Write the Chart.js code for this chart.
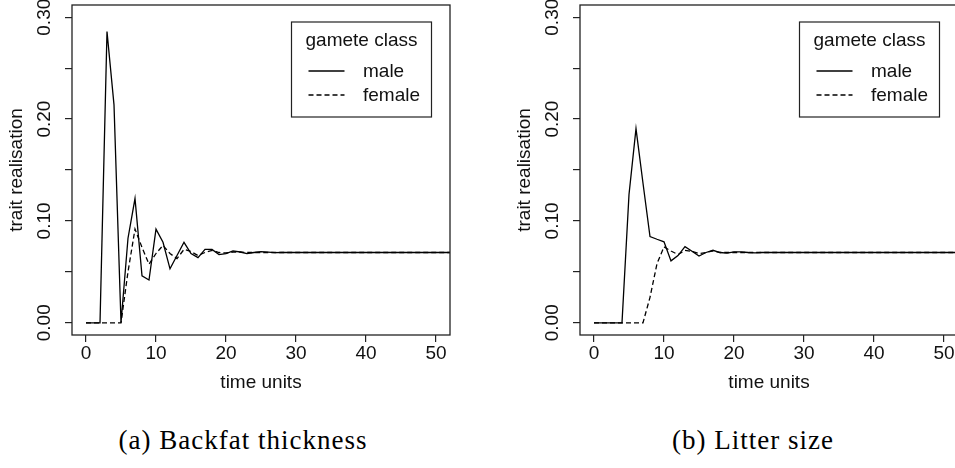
<!DOCTYPE html>
<html><head><meta charset="utf-8">
<script src="https://cdn.jsdelivr.net/npm/chart.js@4.4.0/dist/chart.umd.min.js"></script>
<style>
html,body{margin:0;padding:0;background:#fff;overflow:hidden;width:955px;height:468px;}
#wrap{position:relative;width:955px;height:468px;overflow:hidden;}
canvas{position:absolute;top:0;}
#c1{left:0px}
#c2{left:508px}
.cap{position:absolute;font-family:"Liberation Serif","Times New Roman",serif;font-size:27px;letter-spacing:1px;color:#000;white-space:nowrap;transform:translateX(-50%);line-height:1;}
</style></head><body>
<div id="wrap">
<canvas id="c1" width="480" height="410"></canvas>
<canvas id="c2" width="480" height="410"></canvas>
<div class="cap" id="cap1" style="left:243px;top:427px"></div>
<div class="cap" id="cap2" style="left:753px;top:427px"></div>
</div>
<script>
// ---- data ----
const timeUnits = [0,1,2,3,4,5,6,7,8,9,10,11,12,13,14,15,16,17,18,19,20,21,22,23,24,25,26,27,28,29,30,31,32,33,34,35,36,37,38,39,40,41,42,43,44,45,46,47,48,49,50,51,52,53,54,55];

const backfatMale = [0,0,0,0.286,0.214,0,0.083,0.122,0.046,0.042,0.092,0.079,0.053,0.066,0.079,0.068,0.064,0.072,0.072,0.067,0.068,0.0705,0.0695,0.068,0.069,0.0698,0.0693,0.0688,0.069,0.0692,0.069,0.069,0.069,0.069,0.069,0.069,0.069,0.069,0.069,0.069,0.069,0.069,0.069,0.069,0.069,0.069,0.069,0.069,0.069,0.069,0.069,0.069,0.069,0.069,0.069,0.069];
const backfatFemale = [0,0,0,0,0,0,0.05,0.092,0.074,0.0575,0.068,0.076,0.068,0.063,0.072,0.070,0.066,0.069,0.071,0.069,0.0685,0.0695,0.0695,0.069,0.069,0.069,0.069,0.069,0.069,0.069,0.069,0.069,0.069,0.069,0.069,0.069,0.069,0.069,0.069,0.069,0.069,0.069,0.069,0.069,0.069,0.069,0.069,0.069,0.069,0.069,0.069,0.069,0.069,0.069,0.069,0.069];

const litterMale = [0,0,0,0,0,0.126,0.1906,0.137,0.0847,0.082,0.0795,0.0608,0.066,0.0747,0.0702,0.0656,0.069,0.0712,0.069,0.0683,0.0696,0.0697,0.069,0.0687,0.069,0.0692,0.069,0.069,0.069,0.069,0.069,0.069,0.069,0.069,0.069,0.069,0.069,0.069,0.069,0.069,0.069,0.069,0.069,0.069,0.069,0.069,0.069,0.069,0.069,0.069,0.069,0.069,0.069,0.069,0.069,0.069];
const litterFemale = [0,0,0,0,0,0,0,0,0.025,0.058,0.0745,0.0705,0.067,0.071,0.070,0.068,0.069,0.0705,0.069,0.069,0.069,0.069,0.069,0.069,0.069,0.069,0.069,0.069,0.069,0.069,0.069,0.069,0.069,0.069,0.069,0.069,0.069,0.069,0.069,0.069,0.069,0.069,0.069,0.069,0.069,0.069,0.069,0.069,0.069,0.069,0.069,0.069,0.069,0.069,0.069,0.069];

const seriesNames = ["male", "female"];
const legendTitle = "gamete class";
const xTicks = [0,10,20,30,40,50];
const yTicks = [0,0.05,0.10,0.15,0.20,0.25,0.30];
const yLabelValues = [0,0.10,0.20,0.30];
const yLabelTexts = ["0.00","0.10","0.20","0.30"];
const xTitle = "time units";
const yTitle = "trait realisation";
const captions = ["(a) Backfat thickness", "(b) Litter size"];

// ---- drawing ----
const FONT = '"Liberation Sans", Arial, Helvetica, sans-serif';
const INK = '#111';

const rPlugin = {
  id: 'rstyle',
  afterDraw(chart) {
    const ctx = chart.ctx, ca = chart.chartArea, ys = chart.scales.y;
    ctx.save();
    // plot box
    ctx.strokeStyle = '#222'; ctx.lineWidth = 1.3;
    ctx.strokeRect(ca.left, ca.top, ca.right - ca.left, ca.bottom - ca.top);
    // rotated y tick labels
    ctx.fillStyle = INK; ctx.font = '19px ' + FONT;
    ctx.textAlign = 'center'; ctx.textBaseline = 'middle';
    yLabelValues.forEach((v, i) => {
      const py = ys.getPixelForValue(v);
      ctx.save(); ctx.translate(ca.left - 27.5, py); ctx.rotate(-Math.PI / 2);
      ctx.fillText(yLabelTexts[i], 0, 0); ctx.restore();
    });
    // legend box
    const bw = 140, bh = 95;
    const bx = ca.right - 18.5 - bw, by = ca.top + 17;
    ctx.strokeStyle = '#222'; ctx.lineWidth = 1.2;
    ctx.strokeRect(bx, by, bw, bh);
    ctx.fillText(legendTitle, bx + bw / 2, by + 19);
    const rows = [by + 49, by + 73];
    chart.data.datasets.forEach((ds, i) => {
      ctx.beginPath();
      ctx.strokeStyle = ds.borderColor; ctx.lineWidth = ds.borderWidth;
      ctx.setLineDash(ds.borderDash || []);
      ctx.moveTo(bx + 17, rows[i]); ctx.lineTo(bx + 53, rows[i]); ctx.stroke();
      ctx.setLineDash([]);
      ctx.textAlign = 'left';
      ctx.fillText(ds.label, bx + 71.5, rows[i] + 1);
    });
    ctx.restore();
  }
};

function makeChart(id, maleVals, femaleVals) {
  const gridOpts = {display: true, drawOnChartArea: false, drawTicks: true, tickLength: 7, color: '#222', lineWidth: 1.2};
  return new Chart(document.getElementById(id), {
    type: 'line',
    data: {
      datasets: [
        {label: seriesNames[0], data: timeUnits.map((t, i) => ({x: t, y: maleVals[i]})),
         borderColor: '#000', borderWidth: 1.3, pointRadius: 0, fill: false, tension: 0},
        {label: seriesNames[1], data: timeUnits.map((t, i) => ({x: t, y: femaleVals[i]})),
         borderColor: '#000', borderWidth: 1.3, borderDash: [5, 3], pointRadius: 0, fill: false, tension: 0}
      ]
    },
    options: {
      responsive: false, animation: false, devicePixelRatio: 1,
      layout: {padding: {top: 5, right: 30, left: 0, bottom: 0}},
      plugins: {legend: {display: false}, tooltip: {enabled: false}},
      scales: {
        x: {
          type: 'linear', min: -2, max: 52,
          afterBuildTicks: s => { s.ticks = xTicks.map(v => ({value: v})); },
          afterFit: s => { s.height = 75; },
          grid: gridOpts, border: {display: false},
          ticks: {font: {family: FONT, size: 19}, color: INK, padding: 0, maxRotation: 0, minRotation: 0, autoSkip: false,
                  callback: v => String(v)},
          title: {display: true, text: xTitle, font: {family: FONT, size: 19}, color: INK, padding: {top: 0, bottom: 15.6}}
        },
        y: {
          type: 'linear', min: -0.012, max: 0.312,
          afterBuildTicks: s => { s.ticks = yTicks.map(v => ({value: v})); },
          afterFit: s => { s.width = 72; },
          grid: gridOpts, border: {display: false},
          ticks: {display: false},
          title: {display: true, text: yTitle, font: {family: FONT, size: 19}, color: INK, padding: {top: 5.6, bottom: 0}}
        }
      }
    },
    plugins: [rPlugin]
  });
}

makeChart('c1', backfatMale, backfatFemale);
makeChart('c2', litterMale, litterFemale);
document.getElementById('cap1').textContent = captions[0];
document.getElementById('cap2').textContent = captions[1];
</script>
</body></html>
